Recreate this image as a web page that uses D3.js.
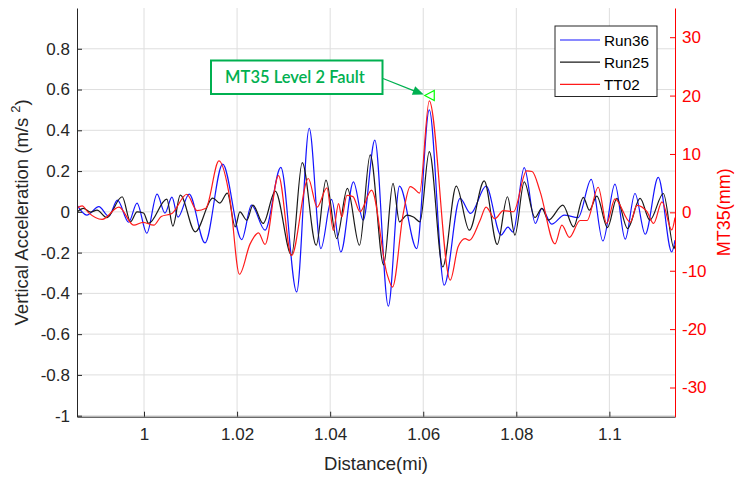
<!DOCTYPE html>
<html>
<head>
<meta charset="utf-8">
<script src="https://cdn.jsdelivr.net/npm/d3@7"></script>
<style>
	body { margin: 0; background: #fff; }
	svg { font-family: "Liberation Sans", Arial, sans-serif; }
	.grid line { stroke: #dedede; stroke-width: 1; }
	.axis text { font-size: 17px; }
</style>
</head>
<body>
<div id="svg_div"></div>
<script>
/* data */
var xTicks = [1, 1.02, 1.04, 1.06, 1.08, 1.1];
var yLeftTicks = [-1, -0.8, -0.6, -0.4, -0.2, 0, 0.2, 0.4, 0.6, 0.8];
var yRightTicks = [-30, -20, -10, 0, 10, 20, 30];
var seriesNames = ['Run36', 'Run25', 'TT02'];

// Run36 - vertical acceleration (m/s^2)
var run36Dist = [0.9856, 0.9877, 0.9903, 0.9924, 0.9943, 0.9967, 0.9985, 1.0006, 1.0028, 1.0045,
	1.0060, 1.0073, 1.0097, 1.0131, 1.0169, 1.0210, 1.0231, 1.0260, 1.0294, 1.0328,
	1.0355, 1.0380, 1.0403, 1.0423, 1.0450, 1.0471, 1.0496, 1.0525, 1.0549, 1.0586,
	1.0613, 1.0645, 1.0679, 1.0702, 1.0735, 1.0767, 1.0782, 1.0793, 1.0817, 1.0841,
	1.0855, 1.0876, 1.0903, 1.0933, 1.0961, 1.0986, 1.1012, 1.1034, 1.1055, 1.1077,
	1.1105, 1.1134, 1.1141];
var run36Acc = [0.033, -0.016, 0.026, -0.021, 0.057, -0.051, 0.043, -0.105, 0.087, -0.006,
	0.072, -0.026, 0.087, -0.152, 0.234, -0.136, 0.033, -0.090, 0.218, -0.393,
	0.410, -0.180, 0.061, -0.197, 0.147, -0.041, 0.352, -0.463, 0.126, -0.180,
	0.500, -0.360, 0.066, -0.008, 0.126, -0.114, -0.075, -0.100, 0.217, -0.057,
	0.017, -0.060, -0.016, -0.028, 0.159, -0.143, 0.136, -0.134, 0.090, -0.110,
	0.169, -0.197, -0.139];

// Run25 - vertical acceleration (m/s^2)
var run25Dist = [0.9856, 0.9870, 0.9885, 0.9899, 0.9920, 0.9953, 0.9971, 0.9985, 0.9999, 1.0010,
	1.0049, 1.0062, 1.0078, 1.0110, 1.0148, 1.0163, 1.0179, 1.0196, 1.0206, 1.0221,
	1.0234, 1.0256, 1.0282, 1.0317, 1.0340, 1.0370, 1.0391, 1.0414, 1.0437, 1.0463,
	1.0486, 1.0515, 1.0535, 1.0549, 1.0565, 1.0579, 1.0593, 1.0613, 1.0642, 1.0671,
	1.0699, 1.0731, 1.0759, 1.0781, 1.0797, 1.0817, 1.0840, 1.0855, 1.0869, 1.0900,
	1.0923, 1.0944, 1.0957, 1.0973, 1.0996, 1.1016, 1.1039, 1.1066, 1.1087, 1.1116,
	1.1139, 1.1141];
var run25Acc = [-0.001, 0.017, -0.001, 0.008, -0.028, 0.074, -0.049, 0.000, -0.006, -0.057,
	0.062, -0.070, 0.082, -0.098, 0.067, 0.043, 0.092, -0.074, 0.000, -0.041,
	0.033, -0.057, 0.102, -0.213, 0.241, -0.164, 0.156, -0.131, 0.115, -0.164,
	0.279, -0.260, 0.140, -0.049, -0.016, -0.025, -0.049, 0.295, -0.270, 0.126,
	-0.090, 0.152, -0.160, 0.074, -0.114, 0.147, -0.028, 0.017, -0.041, 0.033,
	-0.074, 0.071, 0.008, 0.077, -0.077, 0.066, -0.082, 0.066, -0.041, 0.090,
	-0.180, -0.165];

// TT02 - MT35 (mm), right axis
var tt02Dist = [0.9856, 0.9867, 0.9880, 0.9910, 0.9946, 0.9978, 0.9998, 1.0021, 1.0037, 1.0060,
	1.0092, 1.0114, 1.0133, 1.0161, 1.0185, 1.0205, 1.0228, 1.0246, 1.0260, 1.0289,
	1.0317, 1.0353, 1.0372, 1.0393, 1.0407, 1.0418, 1.0425, 1.0436, 1.0449, 1.0464,
	1.0489, 1.0522, 1.0534, 1.0557, 1.0572, 1.0580, 1.0592, 1.0613, 1.0658, 1.0675,
	1.0690, 1.0699, 1.0722, 1.0735, 1.0754, 1.0772, 1.0794, 1.0822, 1.0834, 1.0851,
	1.0883, 1.0898, 1.0914, 1.0937, 1.0952, 1.0976, 1.0994, 1.1012, 1.1045, 1.1059,
	1.1080, 1.1095, 1.1113, 1.1134, 1.1141];
var tt02Mt35 = [0.7, 1.1, 0.0, -1.2, 0.9, -2.2, -1.7, -2.2, -0.7, -0.2,
	3.1, 0.3, 0.7, 8.8, 2.1, -10.6, -5.4, -3.5, -5.5, 6.3,
	-7.4, 5.8, 0.9, 4.2, -3.1, 1.5, -0.8, 2.9, 2.7, 0.1,
	3.8, -10.5, -12.8, -0.2, 4.4, 4.1, 3.3, 19.1, -11.6, -5.9,
	-4.5, -4.8, -1.4, 0.9, -1.1, 0.3, 0.1, 7.1, 7.0, 3.6,
	-5.4, -2.2, -4.3, -1.4, -1.4, 4.3, -1.9, 2.3, -1.7, 1.2,
	0.2, -1.9, 1.8, -3.0, -0.9];

// fault marker (distance, MT35)
var faultPoint = [1.0614, 20];
var faultLabel = 'MT35 Level 2 Fault';

/* chart */
var width = 735;
var height = 477;
var margin = {top: 8, left: 77, bottom: 60.3, right: 60};
var g_width = width - margin.left - margin.right;
var g_height = height - margin.top - margin.bottom;

var svg = d3.select('#svg_div').append('svg')
	.attr('width', width)
	.attr('height', height);
var g = svg.append('g')
	.attr('transform', 'translate(' + margin.left + ',' + margin.top + ')');

var xScale = d3.scaleLinear().domain([0.9856, 1.1141]).range([0, g_width]);
var yLeft = d3.scaleLinear().domain([-1.005, 1.0]).range([g_height, 0]);
var yRight = d3.scaleLinear().domain([-35, 35]).range([g_height, 0]);

// grid
var grid = g.append('g').attr('class', 'grid');
grid.selectAll('.vg').data(xTicks).enter().append('line')
	.attr('x1', function (d) { return xScale(d); })
	.attr('x2', function (d) { return xScale(d); })
	.attr('y1', 0).attr('y2', g_height);
grid.selectAll('.hg').data(yLeftTicks).enter().append('line')
	.attr('y1', function (d) { return yLeft(d); })
	.attr('y2', function (d) { return yLeft(d); })
	.attr('x1', 0).attr('x2', g_width);

// lines
g.append('clipPath').attr('id', 'clip').append('rect')
	.attr('width', g_width).attr('height', g_height);
var plot = g.append('g').attr('clip-path', 'url(#clip)');

function drawLine(xs, ys, yScale, colour) {
	var line = d3.line()
		.x(function (d, i) { return xScale(xs[i]); })
		.y(function (d) { return yScale(d); })
		.curve(d3.curveMonotoneX);
	plot.append('path')
		.attr('d', line(ys))
		.attr('fill', 'none')
		.attr('stroke', colour)
		.attr('stroke-width', 1.2);
}
drawLine(run36Dist, run36Acc, yLeft, '#1414ff');
drawLine(run25Dist, run25Acc, yLeft, '#1a1a1a');
drawLine(tt02Dist, tt02Mt35, yRight, '#ff1a1a');

// axes
var xAxis = d3.axisBottom(xScale).tickValues(xTicks).tickSizeInner(-5).tickSizeOuter(0)
	.tickPadding(11).tickFormat(function (d) { return String(d); });
var gx = g.append('g').attr('class', 'x axis')
	.attr('transform', 'translate(0,' + g_height + ')')
	.call(xAxis);
gx.selectAll('path, line').attr('stroke', '#262626');
gx.selectAll('text').attr('fill', '#262626');

var yAxisL = d3.axisLeft(yLeft).tickValues(yLeftTicks).tickSizeInner(-5).tickSizeOuter(0)
	.tickPadding(7).tickFormat(function (d) { return String(d); });
var gyl = g.append('g').attr('class', 'y axis').call(yAxisL);
gyl.selectAll('path, line').attr('stroke', '#262626');
gyl.selectAll('text').attr('fill', '#262626');

var yAxisR = d3.axisRight(yRight).tickValues(yRightTicks).tickSizeInner(-5).tickSizeOuter(0)
	.tickPadding(7).tickFormat(function (d) { return String(d); });
var gyr = g.append('g').attr('class', 'y axis')
	.attr('transform', 'translate(' + g_width + ',0)')
	.call(yAxisR);
gyr.selectAll('path, line').attr('stroke', '#ff0000');
gyr.selectAll('text').attr('fill', '#ff0000');

// axis labels
svg.append('text')
	.text('Distance(mi)')
	.attr('x', margin.left + g_width / 2)
	.attr('y', 470)
	.attr('text-anchor', 'middle')
	.attr('font-size', '18.5px')
	.attr('fill', '#262626');

var yl = svg.append('text')
	.attr('transform', 'translate(28,' + (margin.top + g_height / 2) + ') rotate(-90)')
	.attr('text-anchor', 'middle')
	.attr('font-size', '18.5px')
	.attr('fill', '#262626');
yl.append('tspan').text('Vertical Acceleration (m/s ');
yl.append('tspan').text('2').attr('font-size', '13px').attr('dy', -8);
yl.append('tspan').text(')').attr('dy', 8);

svg.append('text')
	.text('MT35(mm)')
	.attr('transform', 'translate(730,' + (margin.top + g_height / 2) + ') rotate(-90)')
	.attr('text-anchor', 'middle')
	.attr('font-size', '18px')
	.attr('fill', '#ff0000');

// legend
var legend = svg.append('g').attr('transform', 'translate(555,26)');
legend.append('rect')
	.attr('width', 102).attr('height', 70.5)
	.attr('fill', '#fff').attr('stroke', '#262626').attr('stroke-width', 1);
var legendColours = ['#1414ff', '#1a1a1a', '#ff1a1a'];
seriesNames.map(function (name, i) {
	var yy = 14 + i * 22.2;
	legend.append('line')
		.attr('x1', 5).attr('x2', 45).attr('y1', yy).attr('y2', yy)
		.attr('stroke', legendColours[i]).attr('stroke-width', 1.2);
	legend.append('text')
		.text(name)
		.attr('x', 49).attr('y', yy + 5.5)
		.attr('font-size', '15.3px')
		.attr('fill', '#000');
});

// annotation
var green = '#00b050';
var box = svg.append('g');
box.append('rect')
	.attr('x', 211).attr('y', 60.5).attr('width', 171.5).attr('height', 33.5)
	.attr('fill', '#fff').attr('stroke', green).attr('stroke-width', 2);
box.append('text')
	.text(faultLabel)
	.attr('x', 295).attr('y', 83)
	.attr('text-anchor', 'middle')
	.attr('font-family', 'Lato, "Open Sans", sans-serif')
	.attr('font-weight', 600)
	.attr('font-size', '16.5px')
	.attr('fill', green);

var mx = margin.left + xScale(faultPoint[0]);
var my = margin.top + yRight(faultPoint[1]);
var ax0 = 383, ay0 = 78.5;
var ax1 = mx - 6, ay1 = my - 1;
var ang = Math.atan2(ay1 - ay0, ax1 - ax0);
svg.append('line')
	.attr('x1', ax0).attr('y1', ay0)
	.attr('x2', ax1 - 9 * Math.cos(ang)).attr('y2', ay1 - 9 * Math.sin(ang))
	.attr('stroke', green).attr('stroke-width', 1.3);
svg.append('path')
	.attr('d', d3.line()([
		[ax1, ay1],
		[ax1 - 11 * Math.cos(ang) - 4.5 * Math.sin(ang), ay1 - 11 * Math.sin(ang) + 4.5 * Math.cos(ang)],
		[ax1 - 11 * Math.cos(ang) + 4.5 * Math.sin(ang), ay1 - 11 * Math.sin(ang) - 4.5 * Math.cos(ang)]
	]) + 'Z')
	.attr('fill', green);
// '<' marker
svg.append('path')
	.attr('d', d3.line()([[mx - 5, my], [mx + 4.5, my - 5], [mx + 4.5, my + 5]]) + 'Z')
	.attr('fill', 'none')
	.attr('stroke', '#00ff00')
	.attr('stroke-width', 1.2);
</script>
</body>
</html>
